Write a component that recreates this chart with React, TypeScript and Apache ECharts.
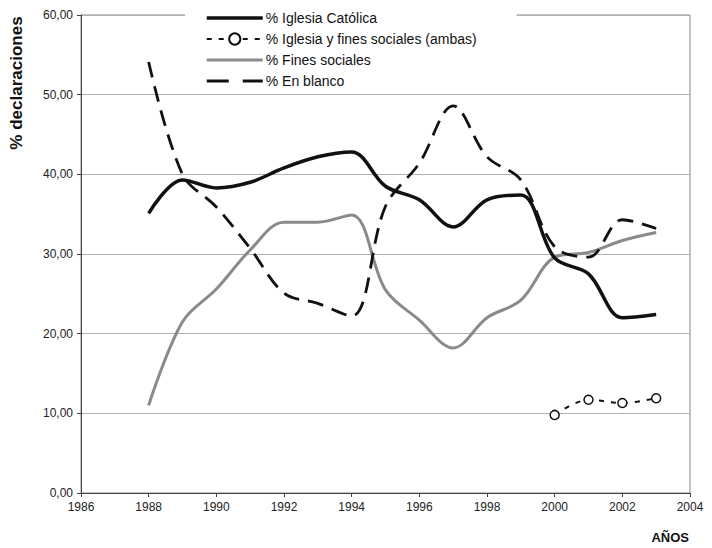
import React, { useEffect, useRef } from "react";
import * as echarts from "echarts";

const years = [1988, 1989, 1990, 1991, 1992, 1993, 1994, 1995, 1996, 1997, 1998, 1999, 2000, 2001, 2002, 2003];
const catolica = [35.1, 39.3, 38.3, 39.0, 40.8, 42.2, 42.8, 38.5, 36.8, 33.4, 36.8, 37.4, 29.5, 27.5, 22.0, 22.4];
const enBlanco = [54.1, 40.0, 35.9, 30.7, 25.1, 23.8, 22.2, 36.0, 41.4, 48.6, 42.2, 39.3, 30.9, 29.6, 34.3, 33.2];
const finesSociales = [11.0, 21.5, 25.6, 30.5, 34.0, 34.0, 34.9, 25.5, 21.7, 18.2, 22.0, 24.2, 29.6, 30.2, 31.7, 32.7];
const ambasYears = [2000, 2001, 2002, 2003];
const ambas = [9.8, 11.7, 11.3, 11.9];

const seriesNames = [
  "% Iglesia Católica",
  "% Iglesia y fines sociales (ambas)",
  "% Fines sociales",
  "% En blanco",
];

const FONT = "'Liberation Sans', Arial, sans-serif";

export default function App() {
  const ref = useRef<HTMLDivElement>(null);
  useEffect(() => {
    if (!ref.current) return;
    const chart = echarts.init(ref.current, undefined, { renderer: "svg" });
    const pair = (xs: number[], ys: number[]) => xs.map((x, i) => [x, ys[i]]);
    chart.setOption({
      animation: false,
      backgroundColor: "#ffffff",
      textStyle: { fontFamily: FONT },
      grid: {
        left: 81,
        right: 22,
        top: 15,
        bottom: 55,
        show: true,
        borderColor: "#888",
        borderWidth: 1,
        backgroundColor: "transparent",
      },
      legend: {
        orient: "vertical",
        left: 185,
        top: 7,
        padding: [4, 40, 4, 20],
        itemGap: 7,
        itemWidth: 56,
        itemHeight: 14,
        backgroundColor: "#ffffff",
        data: [
          { name: seriesNames[0], itemStyle: { opacity: 0 }, lineStyle: { width: 3.5 } },
          { name: seriesNames[1], lineStyle: { width: 2 } },
          { name: seriesNames[2], itemStyle: { opacity: 0 }, lineStyle: { width: 3 } },
          { name: seriesNames[3], itemStyle: { opacity: 0 }, lineStyle: { width: 3, type: [22, 14] } },
        ],
        textStyle: { fontSize: 14, color: "#111", fontFamily: FONT, padding: [0, 0, 0, -2] },
      },
      xAxis: {
        type: "value",
        min: 1986,
        max: 2004,
        interval: 2,
        axisLine: { show: true, lineStyle: { color: "#444", width: 1 } },
        axisTick: { show: true, length: 4, lineStyle: { color: "#444" } },
        axisLabel: { fontSize: 12, color: "#222", margin: 8, fontFamily: FONT, formatter: (v: number) => String(v) },
        splitLine: { show: false },
      },
      yAxis: {
        type: "value",
        min: 0,
        max: 60,
        interval: 10,
        axisLine: { show: true, lineStyle: { color: "#444", width: 1 } },
        axisTick: { show: true, length: 4, lineStyle: { color: "#444" } },
        axisLabel: {
          fontSize: 12,
          color: "#222",
          margin: 8,
          fontFamily: FONT,
          formatter: (v: number) => v.toFixed(2).replace(".", ","),
        },
        splitLine: { show: true, lineStyle: { color: "#b0b0b0", width: 1 } },
      },
      graphic: [
        {
          type: "text",
          x: 16,
          y: 83,
          rotation: Math.PI / 2,
          style: {
            text: "% declaraciones",
            font: `bold 17px ${FONT}`,
            fill: "#111",
            textAlign: "center",
            textVerticalAlign: "middle",
          },
        },
        {
          type: "text",
          x: 689,
          y: 537,
          style: {
            text: "AÑOS",
            font: `bold 13px ${FONT}`,
            fill: "#111",
            textAlign: "right",
            textVerticalAlign: "middle",
          },
        },
      ],
      series: [
        {
          name: seriesNames[0],
          type: "line",
          data: pair(years, catolica),
          smooth: 0.35,
          showSymbol: false,
          symbol: "circle",
          lineStyle: { color: "#111", width: 3.5 },
          itemStyle: { color: "#111" },
          z: 4,
        },
        {
          name: seriesNames[1],
          type: "line",
          data: pair(ambasYears, ambas),
          smooth: 0.35,
          symbol: "circle",
          symbolSize: 9,
          showSymbol: true,
          lineStyle: { color: "#111", width: 2, type: [5, 7] },
          itemStyle: { color: "#ffffff", borderColor: "#111", borderWidth: 1.5 },
          z: 5,
        },
        {
          name: seriesNames[2],
          type: "line",
          data: pair(years, finesSociales),
          smooth: 0.35,
          showSymbol: false,
          symbol: "circle",
          lineStyle: { color: "#8a8a8a", width: 3 },
          itemStyle: { color: "#8a8a8a" },
          z: 3,
        },
        {
          name: seriesNames[3],
          type: "line",
          data: pair(years, enBlanco),
          smooth: 0.35,
          showSymbol: false,
          symbol: "circle",
          lineStyle: { color: "#111", width: 2.8, type: [16, 9] },
          itemStyle: { color: "#111" },
          z: 4,
        },
      ],
    });
    return () => chart.dispose();
  }, []);
  return <div ref={ref} style={{ width: 712, height: 548, position: "absolute", left: 0, top: 0 }} />;
}
